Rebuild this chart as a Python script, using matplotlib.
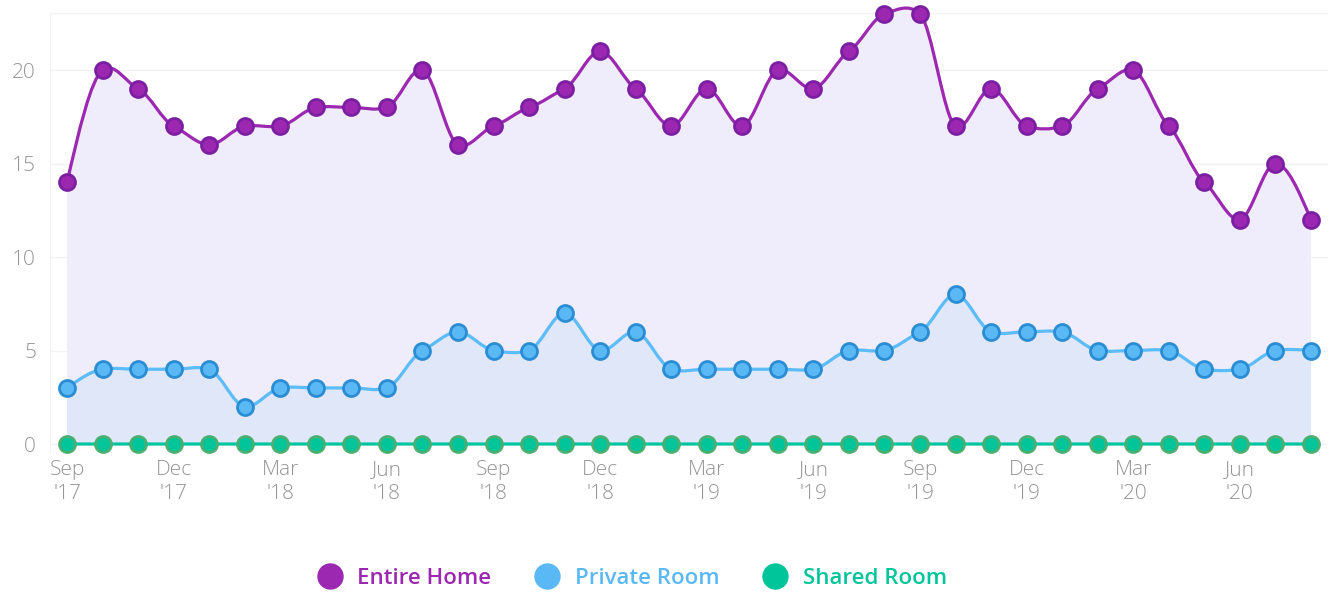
import numpy as np
import matplotlib.pyplot as plt
from matplotlib.path import Path
from matplotlib.patches import PathPatch
from matplotlib.lines import Line2D

plt.rcParams['font.family'] = ['Open Sans', 'DejaVu Sans']

# monthly listings, Sep 2017 .. Aug 2020
entire_home = [14, 20, 19, 17, 16, 17, 17, 18, 18, 18, 20, 16, 17, 18, 19, 21, 19, 17,
               19, 17, 20, 19, 21, 23, 23, 17, 19, 17, 17, 19, 20, 17, 14, 12, 15, 12]
private_room = [3, 4, 4, 4, 4, 2, 3, 3, 3, 3, 5, 6, 5, 5, 7, 5, 6, 4,
                4, 4, 4, 4, 5, 5, 6, 8, 6, 6, 6, 5, 5, 5, 4, 4, 5, 5]
shared_room = [0] * 36

tick_pos = list(range(0, 36, 3))
tick_labels = ["Sep\n'17", "Dec\n'17", "Mar\n'18", "Jun\n'18", "Sep\n'18", "Dec\n'18",
               "Mar\n'19", "Jun\n'19", "Sep\n'19", "Dec\n'19", "Mar\n'20", "Jun\n'20"]

# name, values, line colour, marker face, marker edge, area fill
series = [
    ('Entire Home', entire_home, '#9c27b0', '#9c27b0', '#7b1fa2', '#efecfb'),
    ('Private Room', private_room, '#5bbcf8', '#5ab8f5', '#2a8dd4', '#dfe7f8'),
    ('Shared Room', shared_room, '#00c4a0', '#00c49a', '#4caf72', None),
]


def smooth_path(x, y, k=0.6):
    # cardinal-spline style bezier segments through the data points
    x = np.asarray(x, float)
    y = np.asarray(y, float)
    n = len(x)
    h = np.diff(x)
    s = np.diff(y) / h
    t = np.zeros(n)
    t[1:-1] = k * (y[2:] - y[:-2]) / (x[2:] - x[:-2])
    t[0] = (3 * s[0] - t[1]) / 2
    t[-1] = (3 * s[-1] - t[-2]) / 2
    verts = [(x[0], y[0])]
    codes = [Path.MOVETO]
    for i in range(n - 1):
        dx = h[i] / 3
        verts += [(x[i] + dx, y[i] + dx * t[i]), (x[i + 1] - dx, y[i + 1] - dx * t[i + 1]), (x[i + 1], y[i + 1])]
        codes += [Path.CURVE4] * 3
    return verts, codes


fig = plt.figure(figsize=(13.36, 5.93), dpi=100)
ax = fig.add_axes([50 / 1336, 1 - 453 / 593, 1278 / 1336, 440 / 593])

x = np.arange(36)
for name, vals, lc, mfc, mec, fill in series:
    if fill is None:
        continue
    verts, codes = smooth_path(x, vals)
    fv = verts + [(x[-1], 0), (x[0], 0), (x[0], vals[0])]
    fc = codes + [Path.LINETO, Path.LINETO, Path.CLOSEPOLY]
    ax.add_patch(PathPatch(Path(fv, fc), facecolor=fill, edgecolor='none', zorder=1, clip_on=False))

for i, (name, vals, lc, mfc, mec, fill) in enumerate(series):
    verts, codes = smooth_path(x, vals)
    ax.add_patch(PathPatch(Path(verts, codes), facecolor='none', edgecolor=lc, lw=2.3,
                           zorder=3 + i, clip_on=False))
    ax.plot(x, vals, linestyle='none', marker='o', markersize=11.5, markerfacecolor=mfc,
            markeredgecolor=mec, markeredgewidth=2, zorder=4 + i, clip_on=False)

ax.set_xlim(-0.48, 35.48)
ax.set_ylim(-0.48, 23.05)
ax.set_yticks([0, 5, 10, 15, 20])
ax.set_xticks(tick_pos)
ax.set_xticklabels(tick_labels)
ax.grid(axis='y', color='#f2f2f2', lw=1)
ax.axhline(23.05, color='#f2f2f2', lw=1)
ax.set_axisbelow(True)
for sp in ['top', 'right', 'bottom']:
    ax.spines[sp].set_visible(False)
ax.spines['left'].set_color('#f2f2f2')
ax.tick_params(axis='both', length=0, labelsize=15, colors='#959595', pad=5)
ax.tick_params(axis='y', pad=10)
for lbl in ax.get_xticklabels() + ax.get_yticklabels():
    lbl.set_fontweight('light')
for lbl in ax.get_xticklabels():
    lbl.set_linespacing(1.3)

handles = [Line2D([], [], linestyle='none', marker='o', markersize=19, markerfacecolor=s[3],
                  markeredgecolor='none') for s in series]
leg = fig.legend(handles, [s[0] for s in series], loc='center', bbox_to_anchor=(632 / 1336, 1 - 578 / 593),
                 ncol=3, frameon=False, handletextpad=0.65, columnspacing=1.95, handlelength=1.15,
                 prop={'size': 16, 'weight': 'semibold'})
for txt, s in zip(leg.get_texts(), series):
    txt.set_color(s[3])

fig.savefig('out.png', dpi=100)
